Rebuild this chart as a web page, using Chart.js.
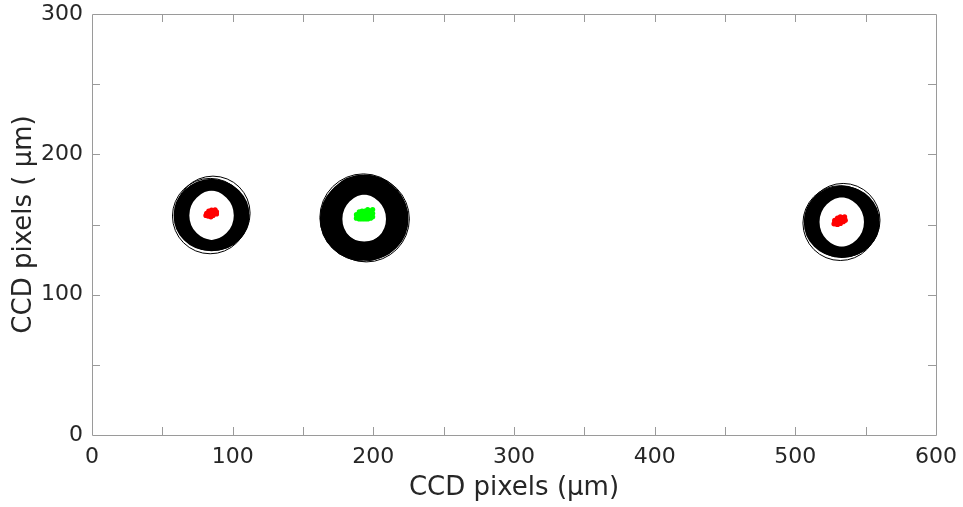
<!DOCTYPE html>
<html lang="en">
<head>
    <meta charset="UTF-8">
    <title>CCD spots</title>
    <script src="https://cdn.jsdelivr.net/npm/chart.js"></script>
    <style>
        body { margin: 0; background: #fff; }
        #wrap { width: 963px; height: 507px; position: relative; }
    </style>
</head>
<body>
    <div id="wrap"><canvas id="myChart"></canvas></div>

    <script>
        // Ring traces (centre x, centre y, inner and outer radius, all in µm)
        const traceX     = [83, 85, 87, 191.5, 193.5, 195.5, 531, 533, 535];
        const traceY     = [156.5, 156.8, 156.5, 154, 155.5, 154, 151.8, 152, 151.8];
        const traceInner = [17.8, 17.8, 17.8, 17.5, 17.5, 17.5, 17.8, 17.8, 17.8];
        const traceOuter = [25, 25.8, 25, 29.5, 30, 29.5, 25, 25.8, 25];

        // a few loose single-line traces at the ring edges
        const strayX = [84, 86, 193, 195, 532, 534];
        const strayY = [156, 158, 155, 154, 151, 153];
        const strayR = [26.8, 26.4, 31, 30.6, 26.6, 26.2];

        // centroid clusters
        const red1X = [81, 82.5, 82.5, 84, 84, 85.5, 85.5, 87, 87, 88.5, 86, 83.5, 81.5, 83, 85, 87.5, 88.5, 84.5];
        const red1Y = [156.5, 157.5, 156, 158.5, 156.5, 159.5, 157.5, 159.5, 158, 159, 156.5, 158.5, 158, 159.5, 160.3, 160.5, 157.5, 155.5];
        const greenX = [188, 188, 190, 190, 190, 192, 192, 192, 194, 194, 194, 196, 196, 196, 196, 198, 198, 198, 199.5, 199.5, 199.5];
        const greenY = [154.5, 157, 154, 156.5, 159, 154, 156.5, 159.5, 154, 156.5, 159.5, 154, 156.5, 159, 160.7, 154.5, 157, 159.5, 155.5, 158, 160.7];
        const red3X = [527.5, 529, 529, 530.5, 530.5, 532, 532, 533.5, 533.5, 535, 535, 531, 528, 528, 530, 532, 530, 532, 534, 535.5];
        const red3Y = [150.5, 150.5, 152, 151.5, 153, 152.5, 154, 153.5, 155, 154.5, 155.5, 152, 151.5, 153, 154.5, 155.5, 150, 150.8, 152, 153];

        const xTicks = [0, 100, 200, 300, 400, 500, 600];
        const yTicks = [0, 100, 200, 300];

        const zip = (xs, ys, extra) => xs.map((x, i) => Object.assign({ x: x, y: ys[i] }, extra ? extra(i) : {}));

        // data units -> pixels, through the x scale
        function toPx(chart, r) {
            const s = chart.scales.x;
            return Math.abs(s.getPixelForValue(r) - s.getPixelForValue(0));
        }

        // box round the axes plus inward tick marks every 50
        const boxTicks = {
            id: 'boxTicks',
            afterDraw(chart) {
                const { ctx, chartArea: a, scales: { x, y } } = chart;
                const len = 8;
                ctx.save();
                ctx.strokeStyle = '#9a9a9a';
                ctx.lineWidth = 1;
                ctx.beginPath();
                ctx.rect(Math.round(a.left) + 0.5, Math.round(a.top) + 0.5,
                         Math.round(a.right - a.left), Math.round(a.bottom - a.top));
                for (let v = 50; v < 600; v += 50) {
                    const px = Math.round(x.getPixelForValue(v)) + 0.5;
                    ctx.moveTo(px, a.bottom); ctx.lineTo(px, a.bottom - len);
                    ctx.moveTo(px, a.top); ctx.lineTo(px, a.top + len);
                }
                for (let v = 50; v < 300; v += 50) {
                    const py = Math.round(y.getPixelForValue(v)) + 0.5;
                    ctx.moveTo(a.left, py); ctx.lineTo(a.left + len, py);
                    ctx.moveTo(a.right, py); ctx.lineTo(a.right - len, py);
                }
                ctx.stroke();
                ctx.restore();
            }
        };

        const font = { family: 'DejaVu Sans', size: 22 };
        const titleFont = { family: 'DejaVu Sans', size: 26 };
        const textColor = '#262626';

        const ctx = document.getElementById('myChart').getContext('2d');
        new Chart(ctx, {
            type: 'scatter',
            data: {
                datasets: [
                    { label: 'red1', data: zip(red1X, red1Y), pointRadius: 2.6, borderWidth: 0, backgroundColor: '#ff0000' },
                    { label: 'green', data: zip(greenX, greenY), pointRadius: 2.6, borderWidth: 0, backgroundColor: '#00ff00' },
                    { label: 'red3', data: zip(red3X, red3Y), pointRadius: 2.6, borderWidth: 0, backgroundColor: '#ff0000' },
                    {
                        label: 'stray',
                        data: zip(strayX, strayY, i => ({ r: strayR[i] })),
                        backgroundColor: 'rgba(0,0,0,0)',
                        borderColor: '#000',
                        borderWidth: 1,
                        pointRadius: c => toPx(c.chart, c.raw.r)
                    },
                    {
                        label: 'rings',
                        data: zip(traceX, traceY, i => ({ rin: traceInner[i], rout: traceOuter[i] })),
                        backgroundColor: 'rgba(0,0,0,0)',
                        borderColor: '#000',
                        borderWidth: c => toPx(c.chart, c.raw.rout - c.raw.rin),
                        pointRadius: c => toPx(c.chart, (c.raw.rout + c.raw.rin) / 2)
                    }
                ]
            },
            options: {
                responsive: true,
                maintainAspectRatio: false,
                animation: false,
                events: [],
                layout: { padding: { top: 14, right: 27, left: 0, bottom: 0 } },
                plugins: {
                    legend: { display: false },
                    tooltip: { enabled: false }
                },
                scales: {
                    x: {
                        type: 'linear',
                        min: 0, max: 600,
                        afterFit: s => { s.height = 72; s.paddingLeft = 0; s.paddingRight = 0; },
                        afterBuildTicks: s => { s.ticks = xTicks.map(v => ({ value: v })); },
                        grid: { display: false, drawTicks: false },
                        border: { display: false },
                        ticks: { font: font, color: textColor, padding: 9, maxRotation: 0 },
                        title: { display: true, text: 'CCD pixels (µm)', font: titleFont, color: textColor, padding: { top: 0, bottom: 3 } }
                    },
                    y: {
                        type: 'linear',
                        min: 0, max: 300,
                        afterFit: s => { s.width = 92; s.paddingTop = 0; s.paddingBottom = 0; },
                        afterBuildTicks: s => { s.ticks = yTicks.map(v => ({ value: v })); },
                        grid: { display: false, drawTicks: false },
                        border: { display: false },
                        ticks: { font: font, color: textColor, padding: 9 },
                        title: { display: true, text: 'CCD pixels ( µm)', font: titleFont, color: textColor, padding: { top: 9, bottom: 0 } }
                    }
                }
            },
            plugins: [boxTicks]
        });
    </script>
</body>
</html>
